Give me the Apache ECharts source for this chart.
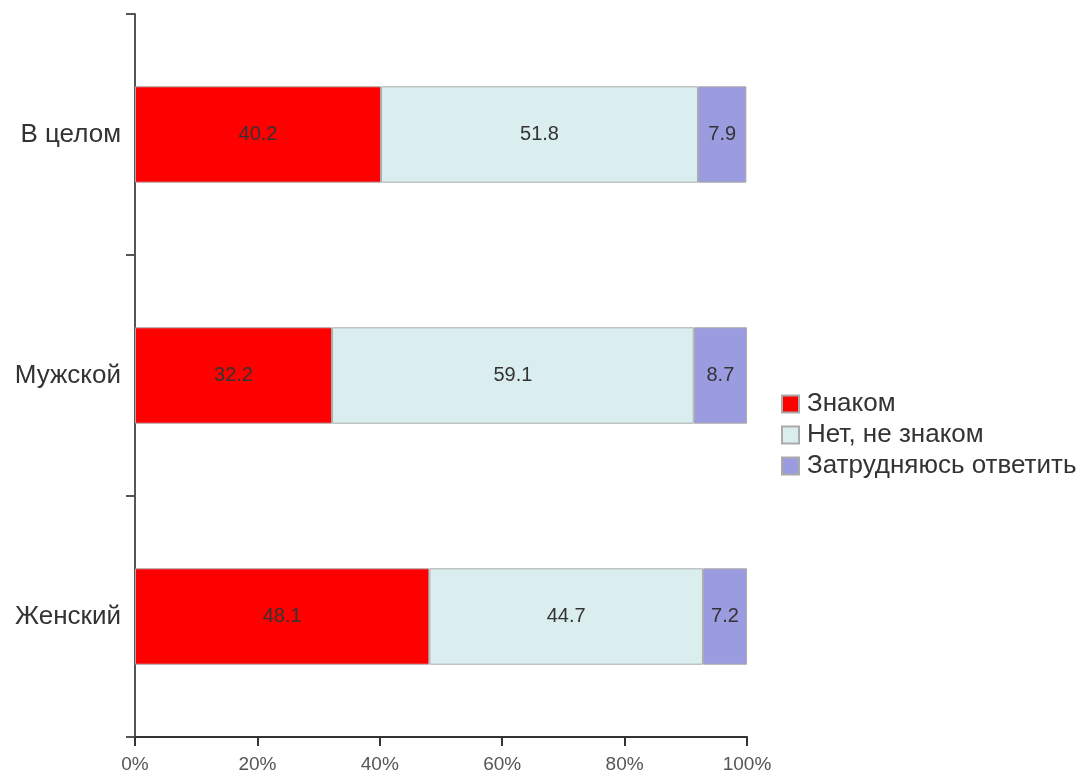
<!DOCTYPE html>
<html><head><meta charset="utf-8">
<script src="https://cdn.jsdelivr.net/npm/echarts@6/dist/echarts.min.js"></script>
<style>html,body{margin:0;padding:0;background:#fff}#c{width:1087px;height:775px}</style>
</head><body><div id="c"></div>
<script>
const categories = ['В целом', 'Мужской', 'Женский'];
const seriesNames = ['Знаком', 'Нет, не знаком', 'Затрудняюсь ответить'];
const known = [40.2, 32.2, 48.1];
const notKnown = [51.8, 59.1, 44.7];
const hardToSay = [7.9, 8.7, 7.2];
const xTicks = [0, 20, 40, 60, 80, 100];
const colors = ['#FF0000', '#DAEEF0', '#9B9BE0'];

const values = [known, notKnown, hardToSay];
const chart = echarts.init(document.getElementById('c'));
chart.setOption({
  animation: false,
  textStyle: {fontFamily: 'Arial, "Liberation Sans", sans-serif'},
  grid: {left: 135, right: 340, top: 14, bottom: 38, containLabel: false},
  legend: {
    orient: 'vertical', left: 776, top: 386,
    itemWidth: 17, itemHeight: 17, itemGap: 5,
    icon: 'rect',
    textStyle: {fontSize: 26, color: '#333', padding: [0, 0, 0, 3]},
    data: seriesNames
  },
  xAxis: {
    type: 'value', min: xTicks[0], max: xTicks[xTicks.length - 1], interval: 20,
    axisLine: {show: true, lineStyle: {color: '#333', width: 2}},
    axisTick: {show: true, length: 9, lineStyle: {color: '#333', width: 2}},
    axisLabel: {formatter: '{value}%', fontSize: 19, color: '#555', margin: 18},
    splitLine: {show: false}
  },
  yAxis: {
    type: 'category', data: categories, inverse: true,
    axisLine: {show: true, lineStyle: {color: '#555', width: 2}},
    axisTick: {show: true, length: 9, inside: false, lineStyle: {color: '#555', width: 2}},
    axisLabel: {fontSize: 26, color: '#333', margin: 14}
  },
  series: seriesNames.map((n, i) => ({
    name: n, type: 'bar', stack: 'total', barCategoryGap: '60%',
    data: values[i],
    itemStyle: {color: colors[i], borderColor: '#AAAAAA', borderWidth: 1},
    label: {show: true, position: 'inside', fontSize: 20, color: '#333'}
  }))
});
</script></body></html>
